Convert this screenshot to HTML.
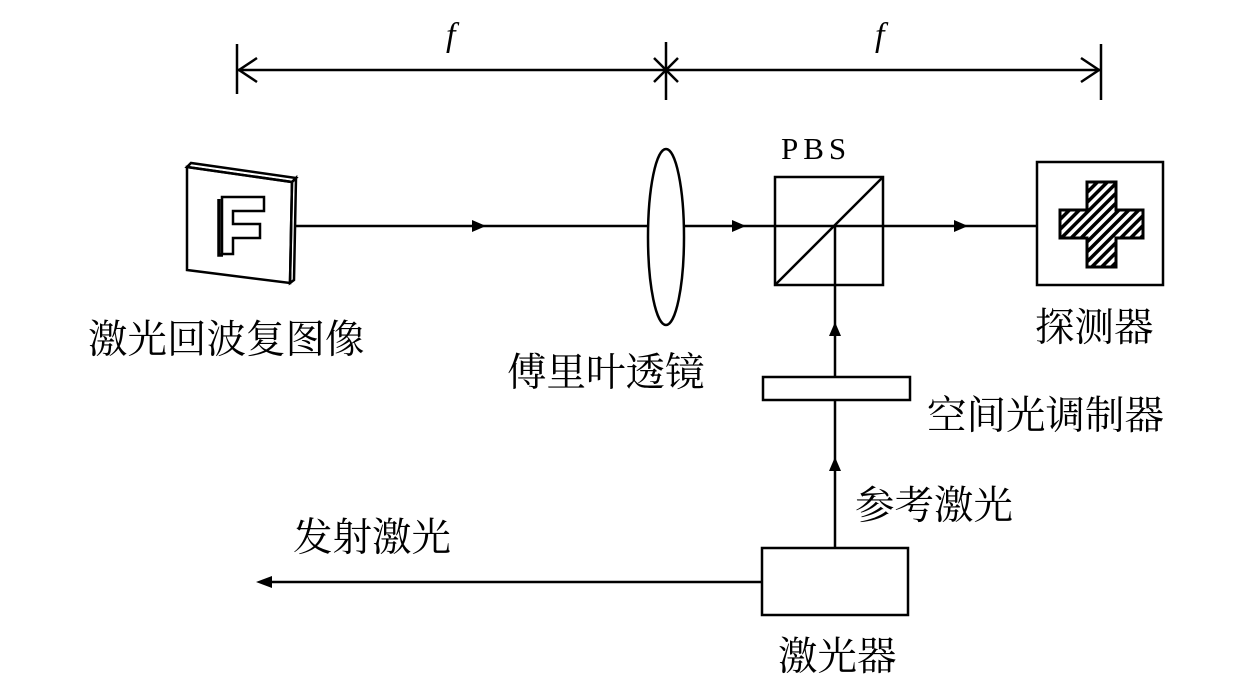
<!DOCTYPE html>
<html><head><meta charset="utf-8"><style>
html,body{margin:0;padding:0;background:#fff;}
svg{display:block;}
.cj{font-family:"Liberation Serif","Noto Serif CJK SC",serif;font-size:39.5px;fill:#000;}
</style></head><body>
<svg width="1260" height="693" viewBox="0 0 1260 693" xmlns="http://www.w3.org/2000/svg">
<g stroke="#000" stroke-width="2.5" fill="none">
<line x1="237" y1="70" x2="1101" y2="70"/>
<line x1="237" y1="44" x2="237" y2="94"/>
<line x1="1101" y1="44" x2="1101" y2="100"/>
<line x1="666" y1="42" x2="666" y2="100"/>
<line x1="654" y1="58" x2="678" y2="82"/>
<line x1="678" y1="58" x2="654" y2="82"/>
<polyline points="257,58 239,70 257,82"/>
<polyline points="1081,58 1099,70 1081,82"/>
<polygon points="187,167 292,182 290,283 187,270" fill="#fff"/>
<polygon points="187,167 191,163 296,178 292,182"/>
<polygon points="292,182 296,178 294,280 290,283"/>
<line x1="296" y1="226" x2="1037" y2="226"/>
<ellipse cx="666" cy="237" rx="18" ry="88" fill="#fff"/>
<rect x="775" y="177" width="108" height="108"/>
<line x1="775" y1="285" x2="883" y2="177"/>
<line x1="835" y1="226" x2="835" y2="548"/>
<rect x="763" y="377" width="147" height="23" fill="#fff"/>
<rect x="762" y="548" width="146" height="67"/>
<line x1="762" y1="582" x2="262" y2="582"/>
<rect x="1037" y="162" width="126" height="123"/>
</g>
<defs>
<pattern id="h" width="7" height="7" patternUnits="userSpaceOnUse" patternTransform="rotate(45)">
<rect width="7" height="7" fill="#fff"/><rect width="3.5" height="7" fill="#000"/>
</pattern>
</defs>
<path d="M1087,182 H1116 V210 H1143 V238 H1116 V267 H1087 V238 H1060 V210 H1087 Z" fill="url(#h)" stroke="#000" stroke-width="3"/>
<path d="M222,197 h42 v14 h-31 v13 h27 v14 h-27 v16 h-11 z" fill="#fff" stroke="#000" stroke-width="2.5"/>
<path d="M219,199 v56 h4" fill="none" stroke="#000" stroke-width="3.5"/>
<g fill="#000">
<polygon points="486,226 472,220 472,232"/>
<polygon points="746,226 732,220 732,232"/>
<polygon points="968,226 954,220 954,232"/>
<polygon points="835,322 829,336 841,336"/>
<polygon points="835,457 829,471 841,471"/>
<polygon points="256,582 272,576 272,588"/>
</g>
<text x="446" y="46" style="font-family:'Liberation Serif',serif;font-style:italic;font-size:34px">f</text>
<text x="875" y="46" style="font-family:'Liberation Serif',serif;font-style:italic;font-size:34px">f</text>
<text x="781" y="159" style="font-family:'Liberation Serif',serif;font-size:31px;letter-spacing:5px">PBS</text>
<text class="cj" x="88" y="353">激光回波复图像</text>
<text class="cj" x="507" y="386">傅里叶透镜</text>
<text class="cj" x="1035" y="341">探测器</text>
<text class="cj" x="927" y="429">空间光调制器</text>
<text class="cj" x="855" y="519">参考激光</text>
<text class="cj" x="293" y="551">发射激光</text>
<text class="cj" x="778" y="670">激光器</text>
</svg>
</body></html>
